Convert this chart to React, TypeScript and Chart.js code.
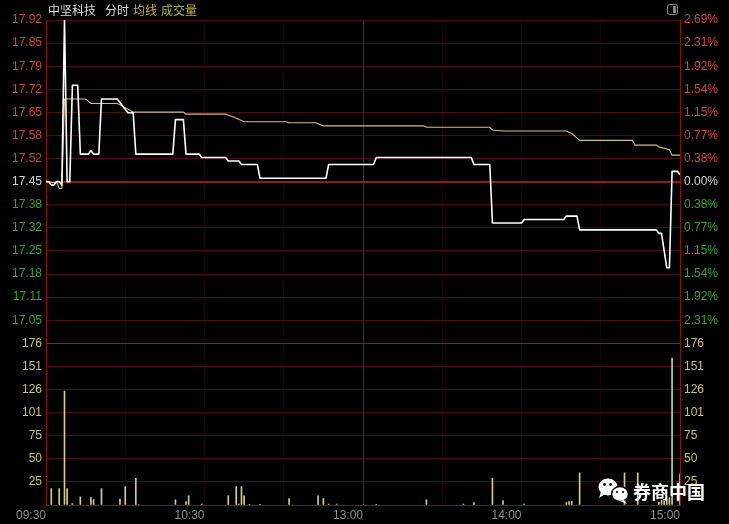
import React, { useEffect, useRef } from 'react';
import { Chart, registerables } from 'chart.js';

Chart.register(...registerables);

// ---------- data ----------
const stockName = '中坚科技';
const titleParts = ['分时', '均线', '成交量'];
const prevClose = 17.45;
const maxPct = 2.69;

const priceTickLabels = ['17.92', '17.85', '17.79', '17.72', '17.65', '17.58', '17.52', '17.45', '17.38', '17.32', '17.25', '17.18', '17.11', '17.05'];
const pctTickLabels = ['2.69%', '2.31%', '1.92%', '1.54%', '1.15%', '0.77%', '0.38%', '0.00%', '0.38%', '0.77%', '1.15%', '1.54%', '1.92%', '2.31%'];
const volMax = 176;
const volTickLabels = ['176', '151', '126', '101', '75', '50', '25'];

const timeTickMinutes = [0, 60, 120, 180, 240];
const timeTickLabels = ['09:30', '10:30', '13:00', '14:00', '15:00'];
const gridMinutes = [0, 30, 60, 90, 120, 150, 180, 210, 240];

// price line (minute index from 09:30, lunch removed) – turning points
const priceMinutes = [0, 1, 2, 3, 4, 5, 6, 7, 8, 9, 10, 12, 13, 16, 17, 18, 20, 21, 27, 28, 29, 30, 31, 33, 34, 48, 49, 52, 53, 58, 59, 68, 69, 73, 74, 80, 81, 106, 107, 124, 125, 161, 162, 168, 169, 180, 181, 196, 197, 201, 202, 231, 232, 233, 234, 235, 236, 237, 239, 240];
const priceValues = [17.45, 17.45, 17.44, 17.44, 17.45, 17.45, 17.44, 17.92, 17.45, 17.45, 17.73, 17.73, 17.53, 17.53, 17.54, 17.53, 17.53, 17.69, 17.69, 17.68, 17.67, 17.66, 17.65, 17.65, 17.53, 17.53, 17.63, 17.63, 17.53, 17.53, 17.52, 17.52, 17.51, 17.51, 17.50, 17.50, 17.46, 17.46, 17.50, 17.50, 17.52, 17.52, 17.50, 17.50, 17.33, 17.33, 17.34, 17.34, 17.35, 17.35, 17.31, 17.31, 17.30, 17.30, 17.25, 17.20, 17.20, 17.48, 17.48, 17.47];

// average price line – turning points
const avgMinutes = [0, 3, 4, 5, 6, 7, 15, 16, 17, 27, 28, 30, 33, 52, 53, 68, 69, 71, 75, 91, 92, 102, 105, 143, 144, 168, 169, 173, 197, 199, 202, 222, 223, 231, 232, 236, 237, 240];
const avgValues = [17.45, 17.447, 17.45, 17.43, 17.43, 17.69, 17.69, 17.684, 17.677, 17.677, 17.673, 17.665, 17.652, 17.652, 17.646, 17.646, 17.643, 17.638, 17.624, 17.624, 17.621, 17.621, 17.612, 17.612, 17.608, 17.608, 17.6, 17.597, 17.597, 17.59, 17.57, 17.57, 17.556, 17.556, 17.551, 17.543, 17.527, 17.527];

// volume (lots) per minute where traded
const volMinutes = [2, 5, 7, 8, 10, 13, 17, 18, 21, 28, 30, 34, 35, 49, 53, 54, 59, 69, 72, 73, 74, 75, 77, 81, 92, 103, 105, 107, 110, 125, 144, 158, 162, 169, 173, 181, 197, 198, 199, 202, 219, 224, 232, 233, 234, 235, 236, 237, 240];
const volValues = [18, 18, 124, 18, 1.5, 9, 8, 6, 18, 6.5, 20, 29, 0.5, 5.5, 3.6, 10, 1.1, 10, 20, 1.1, 20, 10, 0.6, 0.6, 7, 10, 7, 1.1, 1.1, 0.6, 5.5, 1.1, 2.5, 29, 4.7, 1.1, 2.5, 3.6, 4.4, 35, 35, 35, 3, 5, 4, 6, 8, 160, 34];

const watermark = '券商中国';

// ---------- styles ----------
const RED = '#c64646';
const GREEN = '#3d9d3d';
const WHITE_LBL = '#d6d6d6';
const VOL_LBL = '#c9c27c';
const GRID = '#4a0f0f';
const GRID_BRIGHT = '#8e1c1c';
const tickFont = { family: 'Liberation Sans, Arial, sans-serif', size: 12 };

const pMax = prevClose * (1 + maxPct / 100);
const pMin = prevClose * (1 - maxPct / 100);
const N_P = priceTickLabels.length; // 14 intervals
const N_V = volTickLabels.length; // 7 intervals

const overlayPlugin = {
  id: 'overlay',
  beforeDraw(chart: any) {
    const c = chart.ctx;
    c.save();
    c.fillStyle = '#000000';
    c.fillRect(0, 0, chart.width, chart.height);
    c.restore();
  },
  afterDraw(chart: any) {
    const c = chart.ctx;
    c.save();
    c.textBaseline = 'middle';
    c.font = '12px "Noto Sans CJK SC", sans-serif';
    c.fillStyle = '#d8d8d8';
    c.fillText(stockName, 48, 10);
    c.fillText(titleParts[0], 105, 10);
    c.fillStyle = '#c4ac52';
    c.fillText(titleParts[1], 133, 10);
    c.fillStyle = '#b2b05e';
    c.fillText(titleParts[2], 161, 10);

    // top-right icon
    c.strokeStyle = '#8c8c8c';
    c.lineWidth = 1;
    c.beginPath();
    (c as any).roundRect ? (c as any).roundRect(667.5, 4.5, 10, 10, 2) : c.rect(667.5, 4.5, 10, 10);
    c.stroke();
    c.fillStyle = '#8c8c8c';
    c.fillRect(673, 6, 3, 7);

    // watermark icon
    c.fillStyle = '#ffffff';
    c.beginPath();
    c.ellipse(608, 487, 9.5, 8.5, 0, 0, Math.PI * 2);
    c.fill();
    c.beginPath();
    c.moveTo(601, 492);
    c.lineTo(599, 498);
    c.lineTo(605, 494);
    c.fill();
    c.strokeStyle = '#000000';
    c.lineWidth = 1.5;
    c.beginPath();
    c.ellipse(620, 494, 8.5, 7.5, 0, 0, Math.PI * 2);
    c.fill();
    c.stroke();
    c.beginPath();
    c.moveTo(624, 500);
    c.lineTo(627, 504);
    c.lineTo(620, 501);
    c.fill();
    c.fillStyle = '#000000';
    [[604.5, 484.5, 1.4], [610.5, 484.5, 1.4], [617, 492, 1.1], [623, 492, 1.1]].forEach(([x, y, r]) => {
      c.beginPath();
      c.arc(x, y, r, 0, Math.PI * 2);
      c.fill();
    });
    c.fillStyle = '#ffffff';
    c.font = 'bold 18px "Noto Sans CJK SC", sans-serif';
    c.fillText(watermark, 633, 492);
    c.restore();
  },
};

export default function App() {
  const ref = useRef<HTMLCanvasElement | null>(null);

  useEffect(() => {
    if (!ref.current) return;
    const chart = new Chart(ref.current, {
      type: 'line',
      data: {
        datasets: [
          {
            type: 'line',
            label: 'price',
            data: priceMinutes.map((t, i) => ({ x: t, y: priceValues[i] })),
            borderColor: '#ffffff',
            borderWidth: 1.6,
            pointRadius: 0,
            tension: 0,
            borderJoinStyle: 'round',
            xAxisID: 'x',
            yAxisID: 'y',
          },
          {
            type: 'line',
            label: 'avg',
            data: avgMinutes.map((t, i) => ({ x: t, y: avgValues[i] })),
            borderColor: '#d4c07e',
            borderWidth: 1.1,
            pointRadius: 0,
            tension: 0,
            xAxisID: 'x',
            yAxisID: 'y',
          },
          {
            type: 'bar',
            label: 'vol',
            data: volMinutes.map((t, i) => ({ x: t, y: volValues[i] })),
            backgroundColor: '#d2cb90',
            borderWidth: 0,
            barThickness: 1,
            xAxisID: 'x',
            yAxisID: 'yv',
          } as any,
        ],
      },
      options: {
        animation: false,
        responsive: false,
        maintainAspectRatio: false,
        events: [],
        layout: { padding: { top: 20, left: 0, right: 0, bottom: 0 } },
        plugins: { legend: { display: false }, tooltip: { enabled: false } },
        scales: {
          x: {
            type: 'linear',
            min: 0,
            max: 240,
            offset: false,
            afterBuildTicks: (a: any) => {
              a.ticks = gridMinutes.map((v) => ({ value: v }));
            },
            afterFit: (a: any) => {
              a.height = 19;
            },
            ticks: {
              autoSkip: false,
              maxRotation: 0,
              minRotation: 0,
              align: 'end',
              color: '#8c8c8c',
              font: tickFont,
              padding: 3,
              callback: (v: any) => {
                const k = timeTickMinutes.indexOf(Number(v));
                return k >= 0 ? timeTickLabels[k] : '';
              },
            },
            grid: {
              drawTicks: false,
              offset: false,
              color: (ctx: any) => {
                const v = ctx.tick ? ctx.tick.value : 0;
                if (v === 0 || v === 240 || v === 120) return '#7a1616';
                return '#170505';
              },
              lineWidth: 1,
            },
            border: { display: true, color: '#7a1616', width: 1 },
          },
          y: {
            type: 'linear',
            position: 'left',
            stack: 'left',
            stackWeight: 2,
            weight: 1,
            min: pMin,
            max: pMax,
            afterBuildTicks: (a: any) => {
              const arr = [];
              for (let i = 0; i <= N_P; i++) arr.push({ value: pMin + ((pMax - pMin) * i) / N_P });
              a.ticks = arr;
            },
            afterFit: (a: any) => {
              a.width = 46;
            },
            ticks: {
              autoSkip: false,
              padding: 4,
              font: tickFont,
              color: (ctx: any) => {
                const li = N_P - ctx.index;
                return li < 7 ? RED : li === 7 ? WHITE_LBL : GREEN;
              },
              callback: (_v: any, i: number) => (i === 0 ? '' : priceTickLabels[N_P - i]),
            },
            grid: {
              drawTicks: false,
              color: (ctx: any) => (ctx.index === 7 || ctx.index === 0 ? GRID_BRIGHT : GRID),
              lineWidth: (ctx: any) => (ctx.index === 7 ? 2 : 1),
            },
            border: { display: true, color: '#7a1616', width: 1 },
          },
          yv: {
            type: 'linear',
            position: 'left',
            stack: 'left',
            stackWeight: 1,
            weight: 0,
            min: 0,
            max: volMax,
            afterBuildTicks: (a: any) => {
              const arr = [];
              for (let i = 0; i <= N_V; i++) arr.push({ value: (volMax * i) / N_V });
              a.ticks = arr;
            },
            afterFit: (a: any) => {
              a.width = 46;
            },
            ticks: {
              autoSkip: false,
              padding: 4,
              font: tickFont,
              color: VOL_LBL,
              callback: (_v: any, i: number) => (i === 0 ? '' : volTickLabels[N_V - i]),
            },
            grid: {
              drawTicks: false,
              color: (ctx: any) => (ctx.index === N_V ? GRID_BRIGHT : GRID),
              lineWidth: 1,
            },
            border: { display: true, color: '#7a1616', width: 1 },
          },
          yr: {
            type: 'linear',
            position: 'right',
            stack: 'right',
            stackWeight: 2,
            weight: 0,
            min: pMin,
            max: pMax,
            afterBuildTicks: (a: any) => {
              const arr = [];
              for (let i = 0; i <= N_P; i++) arr.push({ value: pMin + ((pMax - pMin) * i) / N_P });
              a.ticks = arr;
            },
            afterFit: (a: any) => {
              a.width = 49;
            },
            ticks: {
              autoSkip: false,
              padding: 4,
              font: tickFont,
              color: (ctx: any) => {
                const li = N_P - ctx.index;
                return li < 7 ? RED : li === 7 ? WHITE_LBL : GREEN;
              },
              callback: (_v: any, i: number) => (i === 0 ? '' : pctTickLabels[N_P - i]),
            },
            grid: { display: false, drawTicks: false },
            border: { display: true, color: '#7a1616', width: 1 },
          },
          yvr: {
            type: 'linear',
            position: 'right',
            stack: 'right',
            stackWeight: 1,
            weight: 1,
            min: 0,
            max: volMax,
            afterBuildTicks: (a: any) => {
              const arr = [];
              for (let i = 0; i <= N_V; i++) arr.push({ value: (volMax * i) / N_V });
              a.ticks = arr;
            },
            afterFit: (a: any) => {
              a.width = 49;
            },
            ticks: {
              autoSkip: false,
              padding: 4,
              font: tickFont,
              color: VOL_LBL,
              callback: (_v: any, i: number) => (i === 0 ? '' : volTickLabels[N_V - i]),
            },
            grid: { display: false, drawTicks: false },
            border: { display: true, color: '#7a1616', width: 1 },
          },
        },
      } as any,
      plugins: [overlayPlugin],
    });
    return () => chart.destroy();
  }, []);

  return (
    <div style={{ position: 'fixed', left: 0, top: 0, width: 729, height: 524, background: '#000' }}>
      <canvas ref={ref} width={729} height={524} style={{ width: 729, height: 524, display: 'block' }} />
    </div>
  );
}
